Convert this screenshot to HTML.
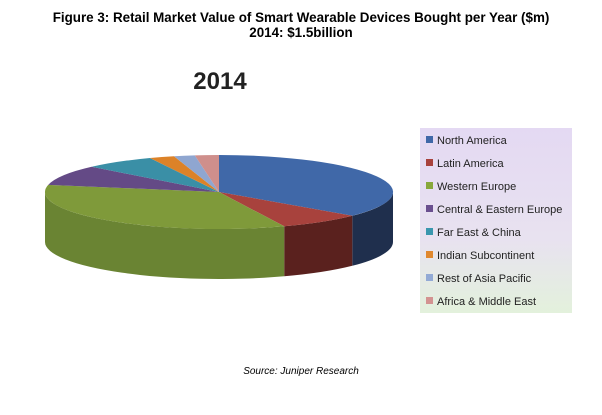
<!DOCTYPE html>
<html><head><style>
body{margin:0;background:#fff;width:602px;height:415px;overflow:hidden;font-family:"Liberation Sans",sans-serif;}
.t{position:absolute;width:602px;text-align:center;font-weight:bold;font-size:13.4px;color:#000}
</style></head><body>
<div class="t" style="top:10px">Figure 3: Retail Market Value of Smart Wearable Devices Bought per Year ($m)</div>
<div class="t" style="top:25px">2014: $1.5billion</div>
<div style="position:absolute;left:160px;width:120px;text-align:center;top:68px;font-weight:bold;font-size:24px;color:#222">2014</div>
<svg id="s" width="602" height="415" style="position:absolute;left:0;top:0">
<defs>
<linearGradient id="lg" x1="0" y1="0" x2="0" y2="1"><stop offset="0" stop-color="#e4d9f3"/><stop offset="0.6" stop-color="#e8e2f0"/><stop offset="1" stop-color="#e3f1dc"/></linearGradient>
</defs>
<rect x="420" y="128" width="152" height="185" fill="url(#lg)"/>
<g font-size="11" fill="#222" font-family="Liberation Sans, sans-serif">
<rect x="426" y="136" width="7" height="7" fill="#4068a8"/><text x="437" y="144">North America</text>
<rect x="426" y="159" width="7" height="7" fill="#a8423d"/><text x="437" y="167">Latin America</text>
<rect x="426" y="182" width="7" height="7" fill="#88a83c"/><text x="437" y="190">Western Europe</text>
<rect x="426" y="205" width="7" height="7" fill="#6a4f8f"/><text x="437" y="213">Central &amp; Eastern Europe</text>
<rect x="426" y="228" width="7" height="7" fill="#3a97ae"/><text x="437" y="236">Far East &amp; China</text>
<rect x="426" y="251" width="7" height="7" fill="#e0882e"/><text x="437" y="259">Indian Subcontinent</text>
<rect x="426" y="274" width="7" height="7" fill="#93aad5"/><text x="437" y="282">Rest of Asia Pacific</text>
<rect x="426" y="297" width="7" height="7" fill="#d39391"/><text x="437" y="305">Africa &amp; Middle East</text>
</g>
<g id="pie"></g>
</svg>
<div style="position:absolute;width:602px;text-align:center;top:366px;font-style:italic;font-size:10px;color:#000">Source: Juniper Research</div>
<script>
var cx=219,cy=192,rx=174,ry=37,d=50;
function P(t,dy){var a=t*Math.PI/180;return [(cx+rx*Math.cos(a)).toFixed(1),(cy+dy+ry*Math.sin(a)).toFixed(1)];}
var segs=[[-90,40,"#4068a8","#1f2f4d"],[40,68,"#a8423d","#5a211e"],[68,191,"#7f9a3a","#6a8433"],[191,223,"#644a86"],[223,246.6,"#3a8fa6"],[246.6,255,"#dc8228"],[255,262,"#8fa6d0"],[262,270,"#cf8f8c"]];
var h="";
segs.forEach(function(s){
 var a=Math.max(s[0],0),b=Math.min(s[1],180);
 if(b>a&&s[3]){var p1=P(a,0),p2=P(b,0),p3=P(b,d),p4=P(a,d);
  h+='<path d="M'+p1+' A'+rx+' '+ry+' 0 0 1 '+p2+' L'+p3+' A'+rx+' '+ry+' 0 0 0 '+p4+' Z" fill="'+s[3]+'"/>';}
});
segs.forEach(function(s){var p1=P(s[0],0),p2=P(s[1],0);var lg=(s[1]-s[0])>180?1:0;
 h+='<path d="M'+cx+' '+cy+' L'+p1+' A'+rx+' '+ry+' 0 '+lg+' 1 '+p2+' Z" fill="'+s[2]+'"/>';});
document.getElementById("pie").innerHTML=h;
</script>
</body></html>
